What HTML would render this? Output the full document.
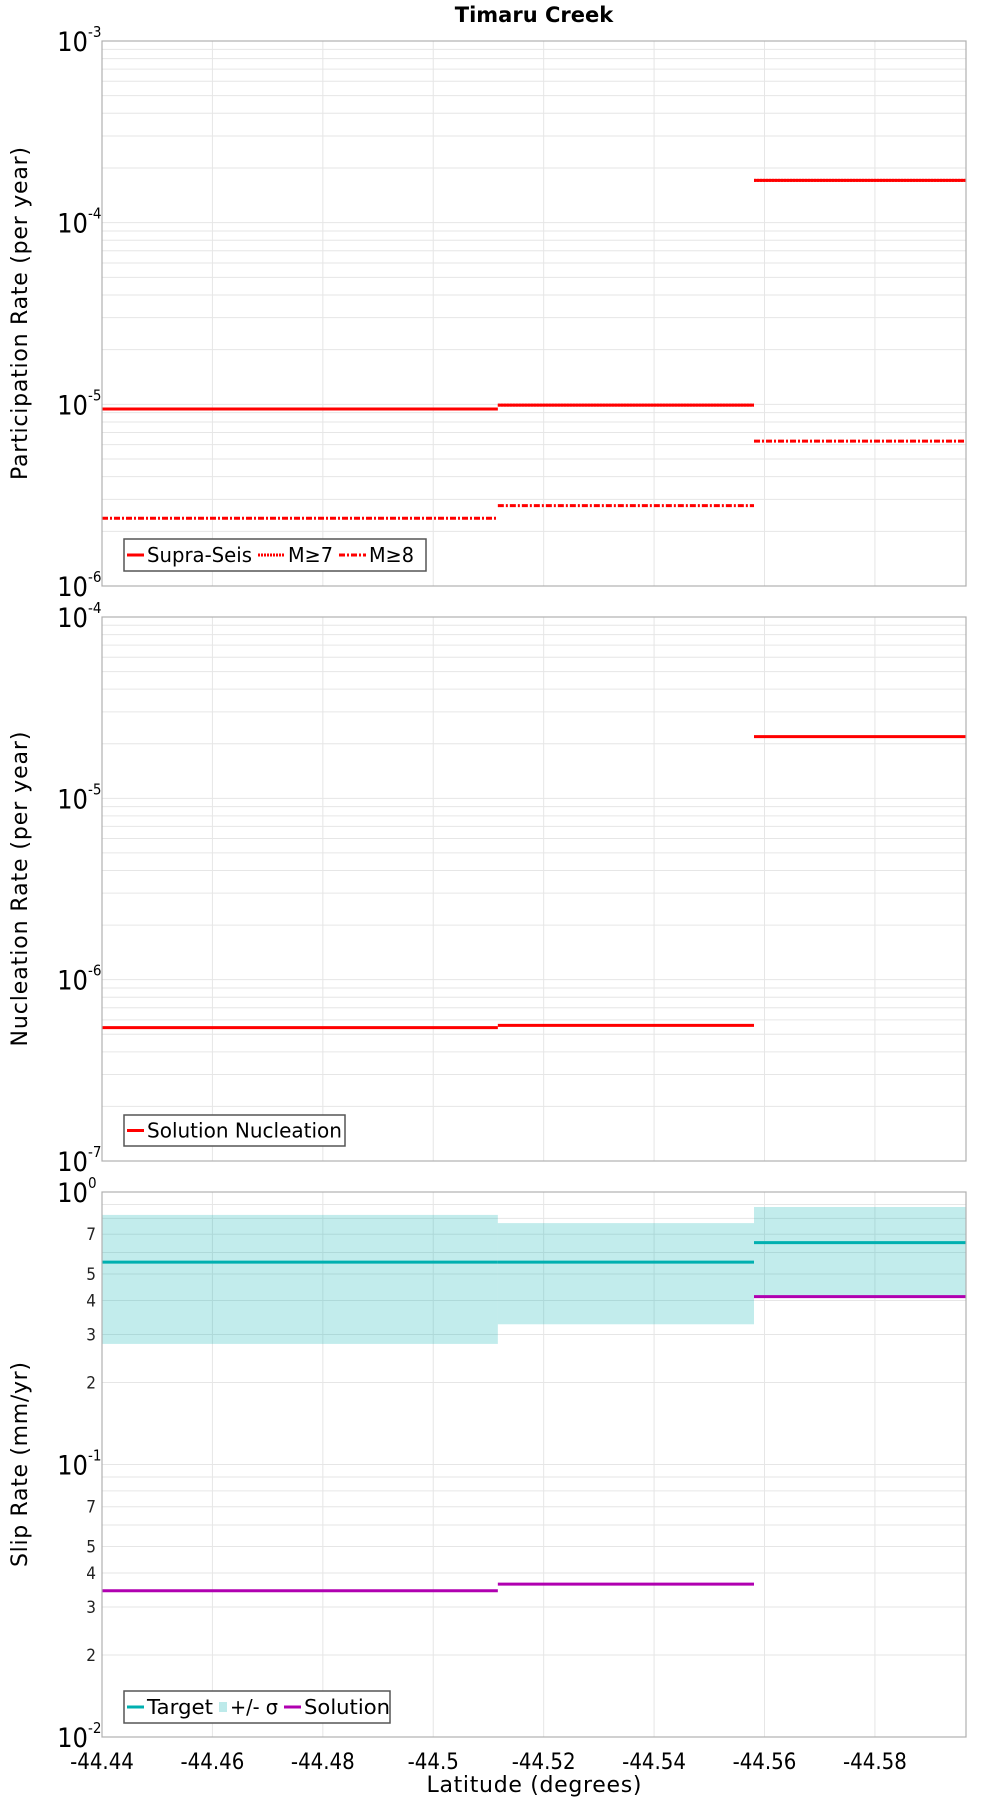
<!DOCTYPE html>
<html><head><meta charset="utf-8"><style>
body{margin:0;background:#fff}
svg{display:block;font-family:"DejaVu Sans","Liberation Sans",sans-serif}
</style></head><body>
<svg id="c" width="1000" height="1800" viewBox="0 0 1000 1800">
<text x="534" y="22" text-anchor="middle" font-weight="bold" font-size="21">Timaru Creek</text>
<text x="534" y="1792" text-anchor="middle" font-size="22" textLength="215">Latitude (degrees)</text>
</svg>
<script>
const xTicks=[-44.44,-44.46,-44.48,-44.5,-44.52,-44.54,-44.56,-44.58];
const xTickLabels=["-44.44","-44.46","-44.48","-44.5","-44.52","-44.54","-44.56","-44.58"];
const segStarts=[-44.44,-44.5117,-44.5581];
const segEnds=[-44.5117,-44.5581,-44.5965];
const supraSeis=[9.43e-6,9.9e-6,1.71e-4];
const m7=[9.43e-6,9.9e-6,1.71e-4];
const m8=[2.36e-6,2.77e-6,6.27e-6];
const nucleation=[5.44e-7,5.6e-7,2.19e-5];
const target=[0.553,0.553,0.652];
const sigmaHigh=[0.824,0.769,0.881];
const sigmaLow=[0.277,0.327,0.413];
const solution=[0.0344,0.0364,0.413];

const NS="http://www.w3.org/2000/svg";
const svg=document.getElementById('c');
const X0=102,X1=966,xMin=-44.44,xMax=-44.5965;
function xs(v){return X0+(v-xMin)/(xMax-xMin)*(X1-X0);}
function mk(tag,attrs,parent){const e=document.createElementNS(NS,tag);for(const k in attrs)e.setAttribute(k,attrs[k]);(parent||svg).appendChild(e);return e;}

function panel(top,bot,lmin,lmax,title,name,minorLabels,titleLen){
  const g=mk('g',{});
  
  
  const ys=v=>bot-(Math.log10(v)-lmin)/(lmax-lmin)*(bot-top);
  for(let d=lmin;d<lmax;d++){for(let m=1;m<=9;m++){const v=m*Math.pow(10,d);if(m===1&&d===lmin)continue;const y=ys(v);
    const l=mk('line',{x1:X0,x2:X1,y1:y,y2:y,stroke:'#e6e6e6','stroke-width':1},g);
    
    }}
  xTicks.forEach(t=>{const x=xs(t);const l=mk('line',{x1:x,x2:x,y1:top,y2:bot,stroke:'#e6e6e6','stroke-width':1},g);
    
    });
  for(let d=lmin;d<=lmax;d++){const y=ys(Math.pow(10,d));
    const t=mk('text',{x:88,y:y+10,'text-anchor':'end','font-size':27,'font-family':'"DejaVu Sans Condensed","Liberation Sans Narrow",sans-serif'},g);
    t.textContent='10';
    
    
    const s=mk('text',{x:88,y:y-4,'font-size':15,'font-family':'"DejaVu Sans Condensed",sans-serif'},g);s.textContent=String(d);
    
    }
  if(minorLabels){for(let d=lmin;d<lmax;d++){[2,3,4,5,7].forEach(m=>{const y=ys(m*Math.pow(10,d));
    const t=mk('text',{x:96,y:y+6,'text-anchor':'end','font-size':17,fill:'#222','font-family':'"DejaVu Sans Condensed",sans-serif'},g);t.textContent=String(m);
    
    });}}
  const yt=mk('text',{x:0,y:0,'font-size':22,'text-anchor':'middle',textLength:titleLen,transform:`translate(27,${(top+bot)/2}) rotate(-90)`},g);yt.textContent=title;
  
  
  return {g,ys,top,bot};
}
function frame(p){const r=mk('rect',{x:X0,y:p.top,width:X1-X0,height:p.bot-p.top,fill:'none',stroke:'#b0b0b0','stroke-width':1.2},p.g);
  
  }
function steps(p,vals,color,dash,name,w){
  vals.forEach((v,i)=>{const y=p.ys(v);const a={x1:xs(segStarts[i]),x2:xs(segEnds[i]),y1:y,y2:y,stroke:color,'stroke-width':w||3};if(dash)a['stroke-dasharray']=dash;
    const l=mk('line',a,p.g);
    
    });
}
function legend(p,x,y,w,h,items){
  const lg=mk('g',{},p.g);
  
  
  mk('rect',{x:x,y:y,width:w,height:h,fill:'#fff',stroke:'#555','stroke-width':1.5},lg);
  let cx=x+3;
  items.forEach(it=>{
    const e=mk('g',{},lg);
    
    
    if(it.box){mk('rect',{x:cx,y:y+h/2-5,width:8,height:10,fill:it.color},e);cx+=11;}
    else{const a={x1:cx,x2:cx+it.ll,y1:y+h/2,y2:y+h/2,stroke:it.color,'stroke-width':3};if(it.dash)a['stroke-dasharray']=it.dash;mk('line',a,e);cx+=it.ll+3;}
    const t=mk('text',{x:cx,y:y+h/2+7,'font-size':20,textLength:it.tl,lengthAdjust:'spacingAndGlyphs'},e);t.textContent=it.label;cx+=it.tl+6;
  });
}
const p1=panel(41,586,-6,-3,'Participation Rate (per year)','participation-panel',false,333);
steps(p1,supraSeis,'#ff0000',null,'supra-seis');
steps(p1,m7,'#ff0000','2,1','m7');
steps(p1,m8,'#ff0000','6,2,2,2','m8');
frame(p1);
legend(p1,124,539,302,32,[{color:'#f00',ll:17,label:'Supra-Seis',tl:105},{color:'#f00',ll:27,dash:'2,1',label:'M≥7',tl:45},{color:'#f00',ll:27,dash:'6,2,2,2',label:'M≥8',tl:45}]);
const p2=panel(617,1161,-7,-4,'Nucleation Rate (per year)','nucleation-panel',false,315);
steps(p2,nucleation,'#ff0000',null,'nucleation');
frame(p2);
legend(p2,124,1115,221,31,[{color:'#f00',ll:17,label:'Solution Nucleation',tl:195}]);
const p3=panel(1192,1737,-2,0,'Slip Rate (mm/yr)','slip-rate-panel',true,205);
sigmaHigh.forEach((v,i)=>{const y1=p3.ys(v),y2=p3.ys(sigmaLow[i]);
  const r=mk('rect',{x:xs(segStarts[i]),y:y1,width:xs(segEnds[i])-xs(segStarts[i]),height:y2-y1,fill:'#00b0b0','fill-opacity':0.24},p3.g);
  
  });
steps(p3,target,'#00b0b0',null,'target');
steps(p3,solution,'#b000b0',null,'solution');
frame(p3);
legend(p3,124,1691,266,32,[{color:'#00b0b0',ll:17,label:'Target',tl:66},{color:'#bdeaea',box:true,label:'+/- σ',tl:48},{color:'#b000b0',ll:17,label:'Solution',tl:86}]);
xTicks.forEach((t,i)=>{const tx=mk('text',{x:xs(t),y:1769,'text-anchor':'middle','font-size':22,'font-family':'"DejaVu Sans Condensed","Liberation Sans Narrow",sans-serif'});tx.textContent=xTickLabels[i];
  
  });
</script>
</body></html>
